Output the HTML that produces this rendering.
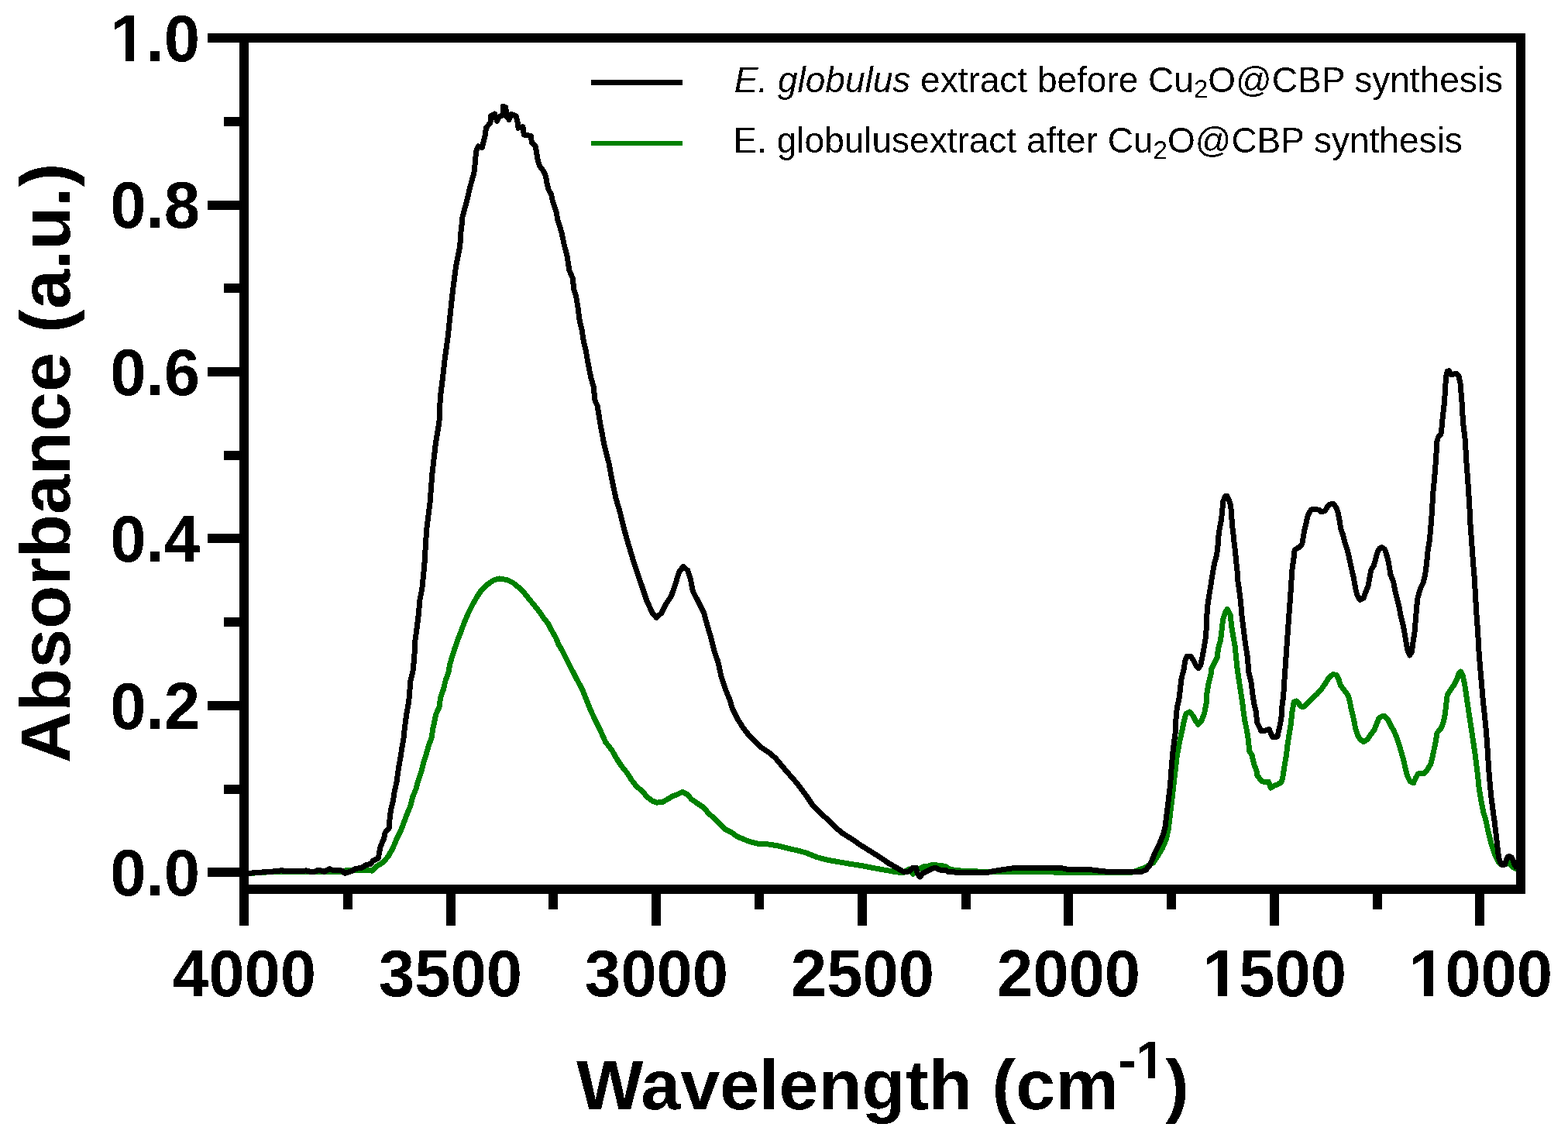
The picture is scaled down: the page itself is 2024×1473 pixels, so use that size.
<!DOCTYPE html>
<html lang="en">
<head>
<meta charset="utf-8">
<title>FTIR absorbance spectra</title>
<style>
html,body{margin:0;padding:0;background:#fff;}
body{width:2024px;height:1473px;overflow:hidden;}
svg{display:block;}
</style>
</head>
<body>
<svg width="2024" height="1473" viewBox="0 0 2024 1473" role="img" aria-label="FTIR absorbance spectra of E. globulus extract before and after Cu2O@CBP synthesis">
<defs><filter id="crisp" x="-5%" y="-5%" width="110%" height="110%" color-interpolation-filters="sRGB"><feComponentTransfer><feFuncA type="discrete" tableValues="0 1"/></feComponentTransfer></filter></defs>
<rect x="0" y="0" width="2024" height="1473" fill="#ffffff"/>
<path d="M321.0,1127.5 L344.5,1126.0 L374.1,1125.3 L403.8,1125.6 L426.0,1126.0 L440.8,1126.0 L448.2,1123.1 L463.0,1123.8 L471.9,1123.1 L480.1,1124.1 L486.8,1117.9 L494.2,1113.4 L500.8,1106.0 L506.8,1095.6 L511.7,1083.8 L517.6,1071.9 L522.0,1060.1 L525.3,1051.2 L529.7,1040.8 L532.7,1028.9 L536.9,1018.6 L540.1,1006.7 L544.3,994.8 L547.2,983.0 L550.5,972.6 L553.5,962.2 L557.2,951.9 L558.9,940.0 L559.7,937.5 L562.6,922.7 L567.1,912.3 L568.6,900.5 L572.3,890.1 L575.2,878.2 L579.0,867.8 L580.4,859.0 L583.4,848.6 L587.1,836.7 L590.8,826.3 L595.3,814.5 L599.7,802.6 L604.2,792.3 L610.1,780.4 L616.0,770.0 L621.9,761.1 L629.3,754.5 L636.8,749.3 L644.2,747.0 L654.5,748.5 L662.0,752.2 L669.4,758.2 L676.8,765.6 L682.7,773.0 L690.1,781.9 L696.0,789.3 L702.0,798.2 L707.9,805.6 L712.4,814.5 L716.8,821.9 L721.2,832.3 L725.7,839.7 L731.6,851.5 L737.5,863.4 L751.8,890.5 L755.6,900.0 L762.2,916.3 L768.9,931.1 L775.6,944.5 L781.5,957.8 L789.7,968.2 L796.3,980.0 L802.3,988.9 L808.9,997.1 L815.6,1007.5 L821.5,1014.9 L828.9,1021.5 L836.3,1029.7 L842.3,1034.1 L848.2,1036.1 L855.6,1035.2 L861.5,1031.9 L867.5,1028.2 L873.4,1026.0 L880.8,1022.3 L886.7,1025.2 L892.7,1031.9 L900.1,1037.1 L909.0,1043.0 L914.9,1050.4 L923.8,1057.9 L931.2,1065.3 L935.7,1070.5 L944.5,1074.9 L952.0,1080.1 L960.8,1083.8 L968.3,1086.8 L980.1,1089.7 L992.0,1090.0 L1003.8,1091.9 L1015.7,1094.9 L1029.0,1097.9 L1040.0,1100.8 L1054.8,1106.7 L1069.6,1110.5 L1084.5,1113.1 L1099.3,1115.6 L1114.1,1117.9 L1128.9,1120.8 L1143.8,1123.5 L1158.6,1126.0 L1166.0,1126.5 L1173.4,1122.0 L1178.6,1128.2 L1182.3,1123.8 L1192.7,1118.6 L1198.6,1117.9 L1203.0,1116.7 L1211.9,1117.1 L1220.8,1118.6 L1226.8,1122.6 L1240.1,1124.1 L1262.3,1125.0 L1283.1,1125.6 L1306.8,1126.0 L1340.0,1125.6 L1384.5,1126.5 L1421.5,1126.8 L1458.6,1126.8 L1466.0,1124.5 L1477.8,1120.1 L1489.0,1113.4 L1494.9,1104.5 L1500.8,1094.2 L1505.3,1083.8 L1508.2,1070.4 L1510.5,1051.2 L1512.7,1033.4 L1514.9,1014.1 L1517.1,994.8 L1519.3,975.6 L1522.6,957.8 L1526.5,940.0 L1528.9,928.6 L1531.1,921.2 L1535.6,919.0 L1540.0,924.2 L1543.0,930.1 L1546.7,935.3 L1551.2,930.1 L1554.9,919.7 L1557.1,907.9 L1557.8,896.0 L1560.0,882.7 L1563.0,870.8 L1563.8,863.4 L1567.5,856.0 L1571.2,848.6 L1572.6,836.7 L1575.6,826.3 L1577.1,813.0 L1578.6,799.7 L1581.5,790.8 L1584.2,786.3 L1588.2,793.7 L1589.7,808.6 L1591.9,821.9 L1594.1,833.8 L1595.6,848.6 L1597.1,863.4 L1599.3,878.2 L1601.6,893.0 L1603.8,907.9 L1605.2,919.8 L1606.7,929.6 L1608.7,939.5 L1610.6,949.4 L1611.8,959.3 L1612.6,969.2 L1616.1,975.1 L1617.5,982.0 L1619.5,988.9 L1622.0,994.9 L1622.7,1000.8 L1626.4,1005.7 L1629.4,1008.7 L1633.4,1009.7 L1637.3,1009.2 L1639.3,1014.6 L1640.3,1017.1 L1644.2,1014.6 L1649.2,1012.6 L1653.6,1010.2 L1655.6,1004.7 L1657.1,994.9 L1658.6,985.0 L1660.5,975.1 L1661.5,965.2 L1663.0,955.3 L1664.5,945.5 L1666.0,936.6 L1667.0,927.7 L1667.9,918.8 L1669.4,910.9 L1670.4,905.9 L1673.4,904.9 L1676.3,907.9 L1678.8,911.9 L1682.3,912.8 L1685.7,909.4 L1689.7,905.9 L1694.2,901.2 L1700.1,896.0 L1705.9,889.3 L1711.1,881.9 L1715.6,874.5 L1720.8,870.5 L1725.2,871.5 L1728.2,877.4 L1730.4,884.8 L1735.6,891.5 L1740.0,897.4 L1742.2,904.8 L1744.5,916.7 L1747.4,928.6 L1749.7,940.4 L1752.6,949.3 L1755.6,954.5 L1760.0,957.5 L1765.2,954.5 L1769.7,947.8 L1774.1,941.9 L1777.1,934.5 L1780.0,927.1 L1783.7,924.9 L1786.7,924.1 L1791.2,928.6 L1794.9,936.0 L1799.3,943.4 L1802.3,950.8 L1806.0,961.2 L1808.9,971.5 L1811.9,981.9 L1814.1,992.3 L1816.4,1001.2 L1820.1,1008.6 L1824.5,1010.8 L1827.5,1004.2 L1830.4,999.0 L1838.6,998.2 L1843.0,993.0 L1846.7,986.4 L1849.0,977.5 L1851.2,967.1 L1853.4,956.7 L1854.9,946.3 L1860.1,940.4 L1863.0,933.0 L1865.3,922.6 L1866.7,909.3 L1868.2,897.4 L1872.7,890.0 L1877.1,884.1 L1880.8,876.7 L1883.1,869.3 L1885.6,867.0 L1888.2,872.2 L1890.5,882.6 L1892.7,897.4 L1894.9,912.3 L1897.1,927.1 L1899.4,941.9 L1901.6,956.7 L1903.8,971.5 L1905.7,986.4 L1907.5,1001.2 L1909.0,1016.0 L1911.2,1029.9 L1913.1,1039.8 L1915.1,1049.6 L1918.1,1059.5 L1920.1,1069.4 L1922.5,1079.3 L1925.0,1089.2 L1927.5,1097.1 L1930.4,1105.0 L1933.4,1111.4 L1937.4,1115.7 L1942.3,1116.0 L1948.2,1113.9 L1953.2,1119.8 L1958.1,1121.8" fill="none" stroke="#008000" stroke-width="7" stroke-linejoin="round" stroke-linecap="butt" shape-rendering="crispEdges"/>
<path d="M321.0,1127.5 L329.6,1126.5 L344.5,1125.6 L359.3,1124.5 L363.7,1123.5 L366.7,1125.0 L377.1,1124.5 L388.9,1125.0 L394.9,1123.8 L403.8,1126.0 L411.2,1123.1 L418.6,1125.3 L425.2,1121.6 L430.4,1123.8 L436.4,1123.1 L442.3,1124.5 L445.3,1127.5 L454.2,1124.5 L458.6,1121.6 L467.5,1120.1 L472.7,1116.4 L477.9,1115.6 L481.6,1111.2 L488.2,1108.2 L491.2,1092.7 L495.7,1082.3 L497.1,1074.9 L502.3,1069.0 L503.1,1057.1 L504.5,1045.2 L507.5,1033.4 L509.0,1023.0 L512.0,1009.7 L513.4,999.3 L514.9,988.9 L517.1,977.1 L518.6,966.7 L520.8,954.8 L522.3,940.0 L524.9,921.2 L527.8,904.9 L530.0,878.2 L533.0,866.4 L534.8,848.6 L536.0,826.3 L538.2,810.0 L540.4,792.3 L541.9,774.5 L544.9,759.6 L546.3,744.8 L547.8,730.0 L550.6,684.6 L555.0,649.1 L558.0,610.7 L562.4,572.2 L566.9,545.6 L568.3,513.0 L571.3,489.3 L574.3,462.7 L578.4,433.1 L581.4,403.6 L584.6,374.0 L588.5,344.4 L593.7,318.0 L594.9,300.1 L596.3,288.2 L597.1,279.3 L599.6,270.5 L602.3,260.1 L604.5,251.2 L607.0,240.8 L609.4,231.9 L611.9,223.0 L612.9,214.1 L613.8,203.8 L614.9,194.9 L617.1,188.9 L622.3,190.4 L624.2,183.0 L626.0,175.6 L627.5,165.2 L630.4,161.5 L633.0,158.5 L633.4,149.7 L638.6,147.1 L641.6,156.3 L644.5,150.4 L649.0,148.9 L649.7,137.1 L652.7,138.5 L654.2,150.4 L657.1,154.5 L660.1,147.4 L666.0,149.7 L668.2,157.8 L669.0,165.2 L674.9,163.7 L676.4,174.1 L685.3,175.3 L686.5,184.5 L691.2,188.9 L692.7,197.8 L694.2,206.7 L696.4,214.1 L701.6,220.8 L704.5,227.5 L706.0,236.4 L708.3,245.3 L711.7,251.2 L713.4,260.1 L716.4,269.0 L718.6,274.9 L719.4,282.3 L722.3,291.2 L725.3,301.6 L728.3,316.4 L731.9,329.6 L734.8,348.9 L739.3,359.3 L740.8,374.1 L743.7,383.0 L745.9,396.3 L748.2,414.1 L751.1,426.0 L753.4,440.8 L756.3,452.7 L758.5,466.0 L760.8,477.9 L763.0,488.2 L766.0,498.6 L768.2,518.0 L771.1,523.7 L774.9,547.3 L779.9,574.0 L785.9,597.6 L790.3,621.3 L794.7,642.0 L800.7,662.7 L805.7,683.4 L811.6,704.1 L816.9,721.9 L822.8,739.6 L828.8,757.4 L834.7,775.1 L842.1,791.4 L847.1,797.3 L853.9,791.4 L859.8,779.6 L866.6,769.2 L871.7,754.4 L876.7,738.2 L882.0,731.4 L887.9,736.7 L891.5,748.5 L894.4,763.3 L901.2,776.6 L908.6,791.4 L913.1,807.7 L917.5,822.5 L922.0,840.2 L927.0,855.0 L930.8,872.8 L936.7,890.5 L942.7,905.3 L945.3,914.8 L952.0,928.2 L958.6,938.5 L965.3,947.4 L974.2,957.1 L983.1,965.2 L992.0,971.1 L1000.9,978.6 L1008.3,987.5 L1015.7,996.3 L1023.1,1004.5 L1030.5,1013.4 L1040.0,1026.0 L1048.9,1039.3 L1059.3,1049.7 L1069.6,1059.3 L1078.5,1068.2 L1087.4,1075.6 L1099.3,1083.0 L1111.1,1091.2 L1123.0,1098.6 L1134.9,1106.0 L1146.7,1114.2 L1157.1,1120.1 L1166.0,1125.3 L1173.4,1125.0 L1177.8,1120.1 L1182.3,1120.1 L1184.5,1128.2 L1187.5,1131.9 L1191.2,1127.5 L1197.1,1124.5 L1203.0,1121.6 L1207.5,1120.1 L1213.4,1123.1 L1220.1,1123.1 L1223.8,1125.3 L1238.6,1126.5 L1254.9,1126.8 L1274.2,1126.5 L1283.1,1124.5 L1294.9,1122.6 L1309.8,1120.5 L1340.0,1120.1 L1369.6,1120.5 L1379.3,1122.6 L1406.7,1122.6 L1421.5,1124.5 L1436.3,1126.0 L1458.6,1125.3 L1473.4,1125.3 L1479.3,1123.1 L1484.5,1116.4 L1488.2,1107.5 L1491.9,1098.6 L1497.1,1088.2 L1500.8,1079.3 L1503.8,1069.0 L1506.0,1051.2 L1508.2,1033.4 L1510.5,1014.1 L1511.9,994.8 L1513.4,975.6 L1515.6,957.8 L1517.9,940.0 L1517.8,930.1 L1519.3,913.8 L1522.3,900.5 L1523.7,887.1 L1525.2,875.3 L1528.2,863.4 L1529.7,853.0 L1532.6,847.1 L1537.1,847.1 L1540.8,853.0 L1543.7,859.0 L1546.7,862.7 L1549.7,859.0 L1551.9,848.6 L1554.1,836.7 L1556.0,824.9 L1557.1,813.0 L1557.8,795.2 L1559.0,780.4 L1560.8,768.5 L1563.0,755.2 L1564.5,744.8 L1567.5,727.5 L1570.4,717.1 L1571.9,706.8 L1572.6,694.9 L1574.1,683.0 L1576.4,671.2 L1577.8,659.3 L1578.6,647.5 L1581.5,640.8 L1583.8,640.1 L1586.7,646.0 L1588.7,653.4 L1589.7,665.3 L1590.4,677.1 L1591.9,689.0 L1593.1,700.8 L1594.6,712.7 L1595.6,724.5 L1597.1,738.0 L1597.1,744.8 L1599.3,759.6 L1601.6,777.4 L1603.0,795.2 L1605.3,813.0 L1607.5,830.8 L1610.4,848.6 L1611.9,867.8 L1614.9,879.7 L1617.1,897.5 L1619.0,909.9 L1621.5,919.8 L1622.5,932.6 L1625.5,938.5 L1627.9,943.5 L1633.4,943.0 L1638.3,941.5 L1640.3,946.4 L1642.3,951.4 L1645.7,951.9 L1649.2,950.4 L1650.7,942.5 L1652.6,934.6 L1654.1,924.7 L1654.6,914.8 L1655.6,905.9 L1656.6,900.0 L1657.9,878.2 L1659.4,857.5 L1660.8,836.7 L1662.3,816.0 L1663.8,795.2 L1665.3,774.5 L1666.8,753.7 L1667.5,738.9 L1669.0,727.5 L1670.5,717.1 L1671.2,709.7 L1676.4,706.8 L1680.8,702.3 L1682.3,693.4 L1683.8,684.5 L1686.0,675.6 L1687.5,668.2 L1689.7,662.3 L1692.7,657.8 L1697.2,657.8 L1703.1,658.1 L1705.3,660.8 L1710.5,659.3 L1713.5,654.1 L1716.4,651.2 L1720.9,650.1 L1724.6,654.9 L1726.8,660.8 L1729.0,671.2 L1730.5,681.6 L1733.5,690.5 L1735.7,699.3 L1738.7,708.2 L1740.9,717.1 L1743.1,727.5 L1747.4,746.3 L1749.7,759.7 L1751.9,768.6 L1755.6,774.5 L1760.0,772.3 L1763.0,764.1 L1766.0,756.7 L1767.9,746.3 L1769.7,736.0 L1773.4,730.0 L1775.9,721.1 L1777.8,713.7 L1780.8,707.8 L1783.7,706.6 L1787.5,709.3 L1790.4,718.2 L1792.6,727.1 L1794.9,741.9 L1798.6,750.8 L1800.8,762.6 L1803.8,774.5 L1806.0,783.4 L1808.2,795.3 L1811.2,807.1 L1813.4,819.0 L1815.3,830.8 L1817.1,840.5 L1819.8,845.9 L1822.3,841.5 L1824.2,827.9 L1826.0,816.0 L1827.5,798.2 L1828.7,783.4 L1830.1,771.5 L1833.4,759.7 L1837.1,752.3 L1839.6,741.9 L1841.6,727.1 L1843.0,712.3 L1845.3,697.4 L1846.7,682.6 L1847.9,667.8 L1849.0,650.0 L1849.4,640.1 L1851.2,622.3 L1852.7,604.5 L1853.9,586.7 L1854.9,570.4 L1856.4,564.5 L1859.8,560.8 L1861.3,549.7 L1862.3,537.8 L1863.8,526.0 L1864.8,514.1 L1865.7,499.3 L1866.7,485.9 L1868.2,479.3 L1870.5,478.8 L1873.1,483.7 L1876.4,483.0 L1880.1,482.2 L1883.1,485.9 L1885.0,494.8 L1886.0,506.7 L1887.1,520.0 L1887.9,534.9 L1889.0,549.7 L1890.9,564.5 L1891.9,579.3 L1892.7,594.2 L1893.9,609.0 L1894.9,623.8 L1895.9,638.6 L1897.1,658.0 L1897.1,664.8 L1898.6,685.6 L1900.1,706.3 L1901.6,727.1 L1903.4,747.8 L1904.5,768.6 L1905.7,789.3 L1907.2,810.1 L1908.3,827.9 L1909.3,845.7 L1911.2,867.8 L1912.7,885.6 L1914.2,903.4 L1916.1,921.1 L1917.9,938.9 L1919.4,956.7 L1920.6,974.5 L1921.6,992.3 L1923.1,1010.1 L1924.0,1020.0 L1925.0,1029.9 L1926.3,1039.8 L1927.5,1049.6 L1929.0,1059.5 L1930.2,1069.4 L1931.4,1079.3 L1932.4,1089.2 L1933.6,1099.1 L1934.6,1107.0 L1936.9,1113.9 L1939.3,1116.8 L1942.3,1116.3 L1944.3,1110.9 L1946.2,1106.0 L1948.2,1105.5 L1951.2,1107.0 L1953.2,1110.9 L1955.1,1116.8 L1958.1,1120.8" fill="none" stroke="#000000" stroke-width="7" stroke-linejoin="round" stroke-linecap="butt" shape-rendering="crispEdges"/>
<g fill="#000" shape-rendering="crispEdges">
<rect x="309" y="43" width="12" height="1152"/>
<rect x="309" y="43" width="1660" height="12"/>
<rect x="1957" y="43" width="12" height="1111"/>
<rect x="309" y="1142" width="1660" height="12"/>
<rect x="268" y="1120" width="47" height="12"/>
<rect x="289" y="1013" width="26" height="12"/>
<rect x="268" y="905" width="47" height="12"/>
<rect x="289" y="797" width="26" height="12"/>
<rect x="268" y="689" width="47" height="12"/>
<rect x="289" y="582" width="26" height="12"/>
<rect x="268" y="474" width="47" height="12"/>
<rect x="289" y="366" width="26" height="12"/>
<rect x="268" y="259" width="47" height="12"/>
<rect x="289" y="151" width="26" height="12"/>
<rect x="268" y="43" width="47" height="12"/>
<rect x="309" y="1148" width="12" height="47"/>
<rect x="443" y="1148" width="12" height="26"/>
<rect x="576" y="1148" width="12" height="47"/>
<rect x="708" y="1148" width="12" height="26"/>
<rect x="841" y="1148" width="12" height="47"/>
<rect x="974" y="1148" width="12" height="26"/>
<rect x="1107" y="1148" width="12" height="47"/>
<rect x="1241" y="1148" width="12" height="26"/>
<rect x="1373" y="1148" width="12" height="47"/>
<rect x="1506" y="1148" width="12" height="26"/>
<rect x="1639" y="1148" width="12" height="47"/>
<rect x="1772" y="1148" width="12" height="26"/>
<rect x="1904" y="1148" width="12" height="47"/>
</g>
<g filter="url(#crisp)">
<g font-family="'Liberation Sans', sans-serif" font-weight="700" font-size="83.3" fill="#000" text-anchor="end">
<text x="258" y="1156.5" transform="translate(0,1156.5) scale(1,1.02) translate(0,-1156.5)">0.0</text>
<text x="258" y="941.5" transform="translate(0,941.5) scale(1,1.02) translate(0,-941.5)">0.2</text>
<text x="258" y="725.5" transform="translate(0,725.5) scale(1,1.02) translate(0,-725.5)">0.4</text>
<text x="258" y="510.5" transform="translate(0,510.5) scale(1,1.02) translate(0,-510.5)">0.6</text>
<text x="258" y="294.5" transform="translate(0,294.5) scale(1,1.02) translate(0,-294.5)">0.8</text>
<text x="258" y="79.5" transform="translate(0,79.5) scale(1,1.02) translate(0,-79.5)">1.0</text>
</g>
<g font-family="'Liberation Sans', sans-serif" font-weight="700" font-size="83.3" fill="#000" text-anchor="middle">
<text x="315.5" y="1286.5" transform="translate(0,1286.5) scale(1,1.02) translate(0,-1286.5)">4000</text>
<text x="581.5" y="1286.5" transform="translate(0,1286.5) scale(1,1.02) translate(0,-1286.5)">3500</text>
<text x="847.5" y="1286.5" transform="translate(0,1286.5) scale(1,1.02) translate(0,-1286.5)">3000</text>
<text x="1113.5" y="1286.5" transform="translate(0,1286.5) scale(1,1.02) translate(0,-1286.5)">2500</text>
<text x="1379.5" y="1286.5" transform="translate(0,1286.5) scale(1,1.02) translate(0,-1286.5)">2000</text>
<text x="1645.5" y="1286.5" transform="translate(0,1286.5) scale(1,1.02) translate(0,-1286.5)">1500</text>
<text x="1911.5" y="1286.5" transform="translate(0,1286.5) scale(1,1.02) translate(0,-1286.5)">1000</text>
</g>
<text font-family="'Liberation Sans', sans-serif" font-weight="700" font-size="91.7" fill="#000" x="744" y="1432">Wavelength (cm<tspan font-size="68" dy="-40">-1</tspan><tspan dy="40">)</tspan></text>
<text font-family="'Liberation Sans', sans-serif" font-weight="700" font-size="91.7" fill="#000" transform="translate(90,985) rotate(-90)">Absorbance (a.u.)</text>
<text font-family="'Liberation Sans', sans-serif" font-size="46" fill="#000" x="947.7" y="118.5"><tspan font-style="italic">E. globulus</tspan> extract before Cu<tspan font-size="33" dy="7.5">2</tspan><tspan dy="-7.5">O@CBP synthesis</tspan></text>
<text font-family="'Liberation Sans', sans-serif" font-size="46" fill="#000" x="946.5" y="197">E. globulusextract after Cu<tspan font-size="33" dy="7.5">2</tspan><tspan dy="-7.5">O@CBP synthesis</tspan></text>
</g>
<g fill="#ffffff" shape-rendering="crispEdges">
<rect x="1823" y="1276" width="15" height="11"/>
<rect x="1850" y="1276" width="14" height="11"/>
<rect x="1557" y="1276" width="15" height="11"/>
<rect x="1584" y="1276" width="14" height="11"/>
<rect x="146" y="69" width="16" height="11"/>
<rect x="173" y="69" width="14" height="11"/>
<rect x="1470" y="1384" width="12" height="9"/>
<rect x="1491" y="1384" width="12" height="9"/>
</g>
<rect x="763" y="103" width="118" height="7" fill="#000" shape-rendering="crispEdges"/>
<rect x="763" y="182" width="118" height="6" fill="#008000" shape-rendering="crispEdges"/>
</svg>
</body>
</html>
